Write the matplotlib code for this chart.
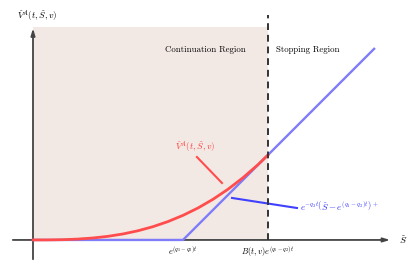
import numpy as np
import matplotlib.pyplot as plt

plt.rcParams['mathtext.fontset'] = 'cm'

# data (in units where the strike e^{(q1-q2)t} = 1)
strike = 1.0
boundary = 1.567
payoff_s = [0.0, 1.0, 2.28]
payoff_v = [0.0, 0.0, 1.28]
value_s = [0.0, 0.1, 0.2, 0.3, 0.4, 0.5, 0.6, 0.7, 0.8, 0.9, 1.0, 1.1, 1.2, 1.3, 1.4, 1.5, 1.567]
value_v = [0.0, 0.0003, 0.0019, 0.0059, 0.0131, 0.0242, 0.040, 0.0613, 0.0886, 0.1226,
           0.164, 0.213, 0.271, 0.338, 0.415, 0.502, 0.567]
tick_labels = [r'$e^{(q_1-q_2)t}$', r'$B(t,v)e^{(q_1-q_2)t}$']

fig = plt.figure(figsize=(4.15, 2.74), dpi=100)
ax = fig.add_axes([0, 0, 1, 1])
ax.set_xlim(-0.22, 2.547)
ax.set_ylim(-0.227, 1.6)
ax.axis('off')

axc = '#444444'
# shaded continuation region
ax.fill_between([0, boundary], 0, 1.42, color='#f3e9e4', lw=0, zorder=0)

# axes with arrows
ax.annotate('', xy=(2.40, 0), xytext=(-0.153, 0),
            arrowprops=dict(arrowstyle='-|>,head_length=0.4,head_width=0.12', color=axc, lw=1.3))
ax.annotate('', xy=(0, 1.43), xytext=(0, -0.147),
            arrowprops=dict(arrowstyle='-|>,head_length=0.4,head_width=0.12', color=axc, lw=1.3))

# payoff and value function
ax.plot(payoff_s, payoff_v, color='#7f7cfa', lw=1.7, zorder=3, solid_capstyle='butt')
ax.plot(value_s, value_v, color='#ff4d4d', lw=2.0, zorder=4)

# boundary
ax.plot([boundary, boundary], [0, 1.5], color='#333333', lw=1.4, ls=(0, (3.5, 2.5)), zorder=5)

# texts
ax.text(-0.107, 1.493, r'$\hat{V}^A(t,\tilde{S},v)$', fontsize=6.5, ha='left', va='center')
ax.text(1.147, 1.267, 'Continuation Region', fontsize=6.3, family='cmr10', ha='center', va='center')
ax.text(1.83, 1.267, 'Stopping Region', fontsize=6.3, family='cmr10', ha='center', va='center')
ax.text(2.44, 0.0, r'$\tilde{S}$', fontsize=7, ha='left', va='center')
ax.text(strike, -0.035, tick_labels[0], fontsize=6, ha='center', va='top')
ax.text(boundary, -0.035, tick_labels[1], fontsize=6, ha='center', va='top')

# annotations
ax.text(1.08, 0.62, r'$\hat{V}^A(t,\tilde{S},v)$', fontsize=6.5, color='#ff3b3b', ha='center', va='center')
ax.plot([1.093, 1.26], [0.553, 0.38], color='#ff4d4d', lw=1.5)
ax.text(1.78, 0.23, r'$e^{-q_2t}\left(\tilde{S}-e^{(q_1-q_2)t}\right)^+$', fontsize=6.5,
        color='#3333ff', ha='left', va='center')
ax.plot([1.327, 1.76], [0.28, 0.213], color='#4040ff', lw=1.5)

fig.savefig('out.png', dpi=100)
